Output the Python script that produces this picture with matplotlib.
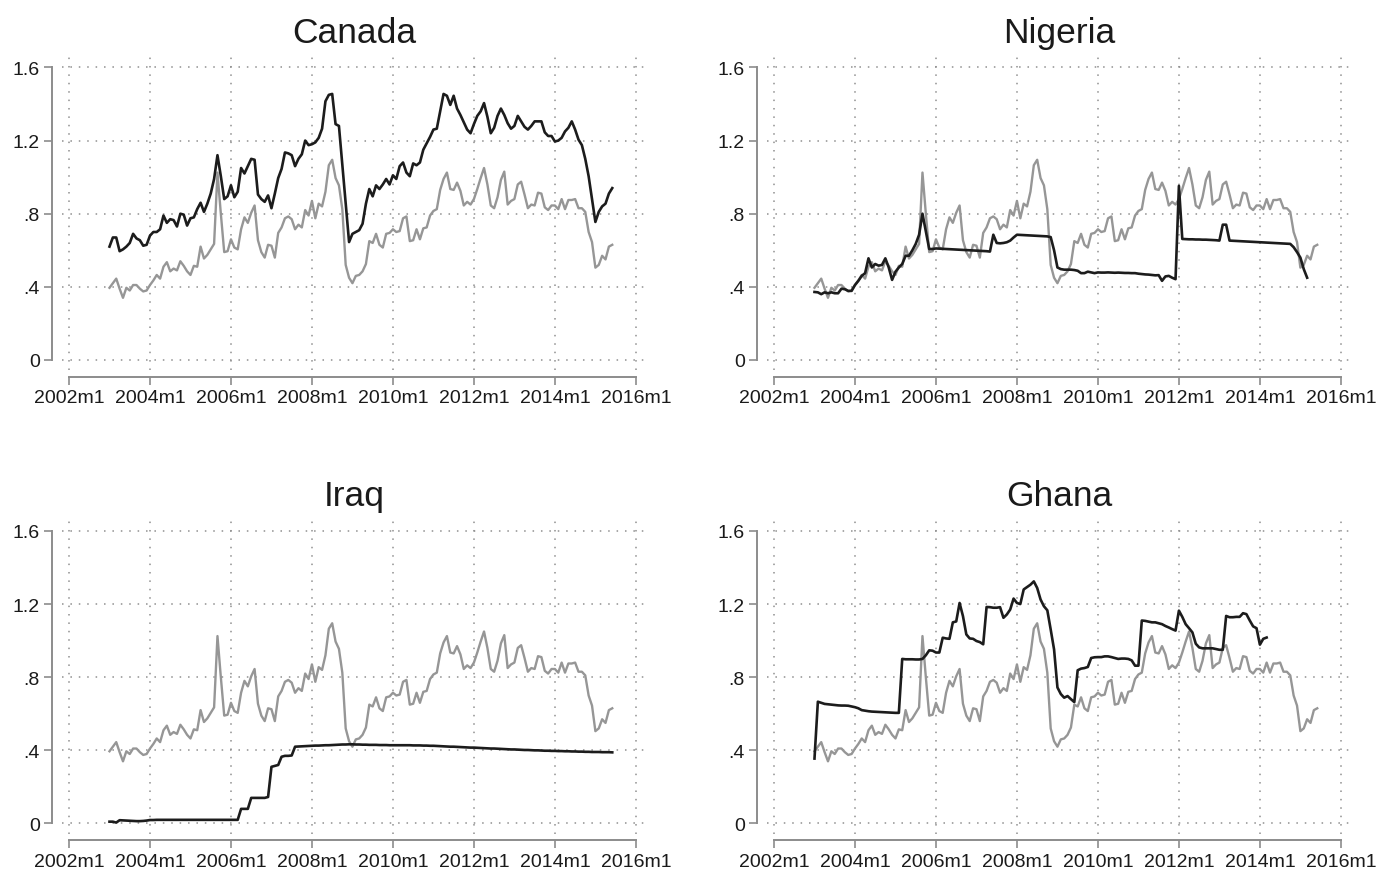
import numpy as np
import matplotlib
matplotlib.use("Agg")
import matplotlib.pyplot as plt

plt.rcParams['font.family'] = ['Liberation Sans', 'DejaVu Sans']

# time axis is counted in months from 2002m1
first_month = 12  # 2003m1
x_ticks = [0, 24, 48, 72, 96, 120, 144, 168]
x_labels = ["2002m1", "2004m1", "2006m1", "2008m1",
            "2010m1", "2012m1", "2014m1", "2016m1"]
y_ticks = [0, 0.4, 0.8, 1.2, 1.6]
y_labels = ["0", ".4", ".8", "1.2", "1.6"]

# common series shown in every panel (2003m1-2015m6)
common = [
    .395, .42, .445, .39, .34, .395, .38, .41, .41, .39, .375, .38,
    .41, .435, .465, .445, .51, .535, .485, .50, .49, .54, .515, .485,
    .465, .515, .51, .62, .555, .575, .605, .635, 1.025, .80, .59, .595,
    .66, .615, .605, .715, .78, .75, .805, .845, .655, .59, .56, .63,
    .625, .56, .695, .725, .775, .785, .77, .715, .74, .725, .82, .79,
    .87, .775, .855, .84, .92, 1.065, 1.095, .995, .955, .825, .52, .45,
    .42, .46, .465, .485, .525, .65, .64, .69, .63, .615, .69, .695,
    .715, .70, .705, .775, .785, .65, .655, .715, .66, .72, .725, .79,
    .815, .825, .93, .99, 1.025, .935, .93, .97, .925, .845, .865, .85,
    .88, .935, .995, 1.05, .96, .845, .83, .89, .985, 1.03, .85, .87,
    .88, .96, .975, .905, .83, .85, .845, .915, .91, .835, .82, .845,
    .845, .825, .88, .825, .875, .875, .88, .83, .83, .81, .70, .645,
    .505, .52, .57, .55, .62, .63,
]

# country series, each starting in 2003m1
canada = [
    .62, .67, .67, .595, .605, .62, .64, .69, .665, .655, .625, .63,
    .68, .70, .70, .715, .79, .75, .77, .765, .73, .80, .795, .735,
    .775, .78, .825, .86, .81, .855, .91, .99, 1.12, 1.005, .88, .895,
    .955, .89, .92, 1.05, 1.02, 1.06, 1.10, 1.095, .905, .88, .865, .90,
    .83, .91, .995, 1.045, 1.135, 1.13, 1.12, 1.06, 1.10, 1.125, 1.20, 1.175,
    1.18, 1.19, 1.215, 1.265, 1.415, 1.45, 1.455, 1.29, 1.28, 1.07, .86, .645,
    .69, .70, .71, .745, .855, .935, .895, .955, .935, .96, .99, .96,
    1.01, .99, 1.06, 1.08, 1.025, 1.005, 1.075, 1.065, 1.08, 1.15, 1.185, 1.22,
    1.26, 1.265, 1.36, 1.455, 1.445, 1.395, 1.445, 1.375, 1.34, 1.30, 1.26, 1.24,
    1.29, 1.335, 1.36, 1.405, 1.33, 1.24, 1.27, 1.335, 1.375, 1.34, 1.295, 1.265,
    1.28, 1.335, 1.305, 1.275, 1.26, 1.28, 1.305, 1.305, 1.305, 1.245, 1.225, 1.225,
    1.195, 1.20, 1.215, 1.25, 1.27, 1.305, 1.26, 1.205, 1.175, 1.10, 1.005, .88,
    .755, .81, .84, .855, .91, .94,
]

nigeria = [
    .372, .37, .36, .37, .365, .37, .365, .365, .39, .387, .378, .378,
    .41, .433, .46, .475, .556, .506, .525, .516, .52, .556, .506, .438,
    .483, .506, .525, .57, .57, .60, .635, .685, .80, .703, .607, .607,
    .61, .609, .608, .607, .606, .605, .604, .603, .602, .601, .600, .599,
    .598, .597, .596, .595, .593, .685, .64, .638, .64, .644, .653, .67,
    .685, .684, .683, .682, .681, .680, .679, .678, .677, .676, .672, .60,
    .506, .497, .494, .494, .494, .492, .488, .475, .475, .483, .479, .475,
    .479, .478, .478, .479, .478, .477, .478, .477, .476, .476, .475, .475,
    .472, .470, .468, .467, .465, .463, .464, .433, .457, .46, .45, .442,
    .952, .662, .661, .660, .660, .659, .659, .658, .658, .657, .656, .655,
    .653, .74, .74, .653, .652, .651, .650, .649, .648, .647, .646, .645,
    .644, .643, .642, .641, .640, .639, .638, .637, .636, .635, .617, .59,
    .56, .497, .45,
]

iraq = [
    .01, .01, .005, .018, .017, .016, .015, .014, .013, .013, .014, .016,
    .019, .019, .02, .02, .02, .02, .02, .02, .02, .02, .02, .02,
    .02, .02, .02, .02, .02, .02, .02, .02, .02, .02, .02, .02,
    .02, .02, .02, .08, .08, .08, .14, .14, .14, .14, .14, .145,
    .31, .315, .32, .365, .37, .37, .372, .42, .421, .422, .423, .424,
    .425, .426, .426, .427, .428, .428, .429, .43, .431, .432, .432, .433,
    .433, .432, .432, .431, .431, .43, .43, .43, .429, .429, .429, .428,
    .428, .428, .428, .428, .428, .428, .427, .427, .427, .426, .426, .425,
    .425, .424, .423, .422, .421, .42, .42, .419, .418, .417, .416, .415,
    .415, .414, .413, .412, .411, .41, .41, .409, .408, .407, .406, .405,
    .405, .404, .403, .402, .402, .401, .40, .40, .399, .398, .398, .397,
    .397, .396, .396, .395, .395, .394, .394, .393, .393, .392, .392, .391,
    .391, .391, .39, .39, .39, .389,
]

ghana = [
    .355, .666, .66, .654, .652, .65, .648, .646, .645, .645, .644, .64,
    .636, .63, .62, .617, .614, .612, .611, .61, .609, .608, .607, .606,
    .605, .605, .90, .898, .898, .898, .897, .897, .90, .92, .947, .945,
    .935, .935, 1.016, 1.012, 1.01, 1.10, 1.105, 1.206, 1.134, 1.034, 1.012, 1.01,
    .998, .992, .98, 1.184, 1.183, 1.18, 1.18, 1.183, 1.125, 1.143, 1.17, 1.23,
    1.206, 1.20, 1.28, 1.293, 1.306, 1.324, 1.288, 1.225, 1.188, 1.166, 1.061, .952,
    .744, .708, .688, .697, .68, .664, .838, .847, .85, .856, .905, .909,
    .91, .91, .914, .914, .91, .905, .90, .902, .902, .90, .892, .863,
    .863, 1.11, 1.108, 1.104, 1.10, 1.10, 1.095, 1.09, 1.08, 1.072, 1.063, 1.055,
    1.164, 1.13, 1.09, 1.068, 1.045, .983, .963, .958, .958, .958, .958, .954,
    .95, .95, 1.135, 1.128, 1.128, 1.13, 1.13, 1.15, 1.145, 1.11, 1.078, 1.068,
    .978, 1.01, 1.017,
]

panels = [("Canada", canada), ("Nigeria", nigeria),
          ("Iraq", iraq), ("Ghana", ghana)]

W, H = 1391, 879
fig = plt.figure(figsize=(W / 100, H / 100), dpi=100)

# plot regions in pixels: left, top, right, bottom
box = (62.25, 58, 646, 371)
dx, dy = 705, 463.5
offsets = [(0, 0), (dx, 0), (0, dy), (dx, dy)]

axis_grey = "#8c8c8c"
txt = "#1a1a1a"

for (name, vals), (ox, oy) in zip(panels, offsets):
    l, t, r, b = box[0] + ox, box[1] + oy, box[2] + ox, box[3] + oy
    ax = fig.add_axes([l / W, 1 - b / H, (r - l) / W, (b - t) / H])

    xc = np.arange(first_month, first_month + len(common))
    xv = np.arange(first_month, first_month + len(vals))
    ax.plot(xc, common, color="#969696", lw=1.7, zorder=3)
    ax.plot(xv, vals, color="#1c1c1c", lw=1.9, zorder=4)

    ax.set_xlim(-2, 171)
    ax.set_ylim(-0.0547, 1.657)
    ax.set_xticks(x_ticks)
    ax.set_xticklabels(x_labels)
    ax.set_yticks(y_ticks)
    ax.set_yticklabels(y_labels)

    ax.grid(True, color="#8f8f8f", lw=1.1, linestyle=(0, (1, 4.5)))
    ax.set_axisbelow(True)

    for side in ("top", "right"):
        ax.spines[side].set_visible(False)
    ax.spines["left"].set_position(("outward", 7.2))
    ax.spines["bottom"].set_position(("outward", 4.8))
    ax.spines["left"].set_bounds(0, 1.6)
    ax.spines["bottom"].set_bounds(0, 168)
    for side in ("left", "bottom"):
        ax.spines[side].set_color(axis_grey)
        ax.spines[side].set_linewidth(1.4)

    ax.tick_params(length=6, width=1.2, color=axis_grey,
                   labelsize=14, labelcolor=txt, pad=3)
    ax.set_title(name, fontsize=25.5, color=txt, pad=11)

fig.savefig("out.png", dpi=100)
